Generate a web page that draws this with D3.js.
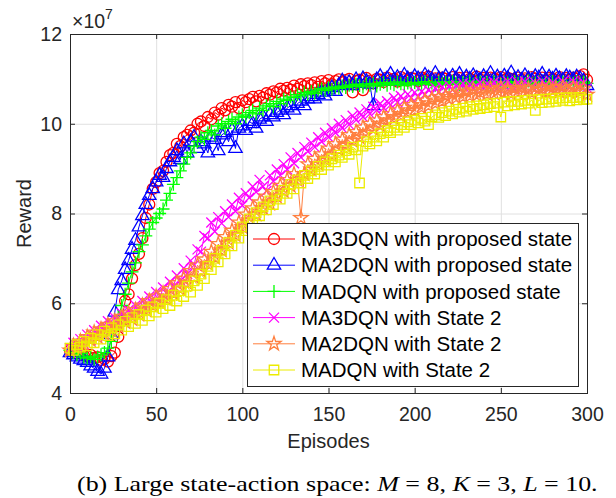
<!DOCTYPE html>
<html>
<head>
<meta charset="utf-8">
<script src="https://cdn.jsdelivr.net/npm/d3@7"></script>
<style>
  body { margin: 0; background: #fff; }
  svg { display: block; }
</style>
</head>
<body>
<svg id="chart"></svg>
<script>
// reward values in units of 1e7, one value every 2 episodes (0..300)
const episodes = d3.range(0, 301, 2);

const ma3dqnProposed = [
  4.95, 4.92, 4.88, 4.90, 4.84, 4.82, 4.85, 4.78, 4.80, 4.74,
  4.76, 4.70, 4.82, 4.90, 5.25, 5.60, 6.05, 6.20, 6.55, 6.85,
  7.10, 7.45, 7.90, 8.20, 8.55, 8.70, 8.90, 8.95, 9.15, 9.30,
  9.35, 9.55, 9.50, 9.70, 9.75, 9.85, 9.80, 10.00, 10.05, 9.95,
  10.15, 10.10, 10.25, 10.20, 10.35, 10.30, 10.42, 10.38, 10.48, 10.35,
  10.52, 10.48, 10.55, 10.60, 10.50, 10.62, 10.58, 10.68, 10.65, 10.72,
  10.70, 10.78, 10.74, 10.80, 10.76, 10.85, 10.78, 10.88, 10.84, 10.90,
  10.86, 10.92, 10.82, 10.95, 10.90, 10.97, 10.88, 10.95, 10.99, 10.92,
  10.97, 11.00, 10.70, 10.95, 10.98, 10.75, 11.02, 10.96, 10.90, 11.00,
  10.98, 10.93, 11.03, 10.97, 11.00, 10.94, 11.04, 10.99, 10.96, 11.02,
  11.00, 10.95, 11.03, 10.98, 11.05, 10.97, 11.01, 10.94, 11.03, 11.00,
  10.97, 11.04, 10.99, 11.02, 10.95, 11.03, 11.00, 10.97, 11.05, 10.99,
  11.02, 10.96, 11.03, 11.00, 10.98, 11.04, 10.97, 11.02, 11.00, 10.96,
  11.03, 10.99, 11.01, 10.97, 11.04, 11.00, 10.98, 11.03, 10.96, 11.02,
  11.00, 10.97, 11.04, 10.99, 11.02, 10.98, 11.03, 11.00, 11.06, 11.10,
  10.98
];

const ma2dqnProposed = [
  4.90, 4.85, 4.80, 4.75, 4.72, 4.68, 4.60, 4.55, 4.48, 4.42,
  4.55, 4.80, 5.30, 5.80, 6.30, 6.50, 6.75, 6.95, 7.20, 7.40,
  7.70, 7.95, 8.20, 8.40, 8.55, 8.70, 8.85, 8.80, 9.00, 9.15,
  9.25, 9.40, 9.20, 9.55, 9.35, 9.60, 9.70, 9.45, 9.60, 9.55,
  9.35, 9.70, 9.65, 9.40, 9.75, 9.80, 9.60, 9.85, 9.45, 9.90,
  9.95, 9.85, 10.05, 10.00, 9.90, 10.10, 10.15, 10.05, 10.20, 10.15,
  10.25, 10.30, 10.20, 10.35, 10.40, 10.30, 10.45, 10.50, 10.40, 10.55,
  10.60, 10.55, 10.65, 10.70, 10.62, 10.75, 10.80, 10.72, 10.85, 10.95,
  10.88, 10.92, 10.85, 10.98, 10.90, 11.00, 10.94, 10.88, 10.40, 10.98,
  11.05, 10.95, 11.00, 11.10, 10.97, 11.03, 10.95, 11.08, 11.00, 10.96,
  11.05, 11.00, 10.96, 11.08, 11.02, 10.97, 11.12, 11.00, 10.98, 11.05,
  10.97, 11.06, 11.00, 11.10, 10.96, 11.04, 10.99, 11.07, 11.01, 10.97,
  11.05, 11.00, 11.12, 10.98, 11.04, 10.96, 11.06, 11.01, 11.13, 10.99,
  11.03, 10.97, 11.07, 11.00, 10.96, 11.05, 11.02, 11.10, 10.98, 11.04,
  10.99, 11.06, 11.00, 10.97, 11.05, 11.02, 10.98, 11.04, 11.00, 10.95,
  10.85
];

const madqnProposed = [
  4.95, 4.90, 4.85, 4.88, 4.80, 4.78, 4.82, 4.75, 4.80, 4.85,
  4.90, 5.00, 5.15, 5.40, 5.70, 5.95, 6.20, 6.45, 6.70, 6.90,
  7.15, 7.30, 7.50, 7.65, 7.80, 7.90, 8.00, 8.10, 8.30, 8.45,
  8.65, 8.80, 8.95, 9.10, 9.25, 9.35, 9.50, 9.60, 9.70, 9.65,
  9.80, 9.85, 9.75, 9.95, 10.00, 9.90, 10.05, 10.10, 10.00, 10.15,
  10.20, 10.15, 10.25, 10.30, 10.22, 10.35, 10.30, 10.40, 10.45, 10.38,
  10.50, 10.45, 10.55, 10.52, 10.60, 10.58, 10.65, 10.62, 10.70, 10.66,
  10.72, 10.68, 10.75, 10.78, 10.74, 10.80, 10.77, 10.82, 10.79, 10.84,
  10.81, 10.86, 10.83, 10.88, 10.85, 10.82, 10.89, 10.86, 10.90, 10.84,
  10.88, 10.92, 10.86, 10.90, 10.87, 10.93, 10.89, 10.85, 10.91, 10.88,
  10.92, 10.87, 10.90, 10.94, 10.88, 10.91, 10.86, 10.93, 10.89, 10.92,
  10.88, 10.94, 10.90, 10.87, 10.92, 10.89, 10.95, 10.88, 10.91, 10.93,
  10.89, 10.92, 10.87, 10.94, 10.90, 10.88, 10.93, 10.91, 10.87, 10.94,
  10.90, 10.92, 10.88, 10.95, 10.89, 10.91, 10.93, 10.87, 10.92, 10.90,
  10.94, 10.88, 10.91, 10.93, 10.89, 10.92, 10.90, 10.94, 10.91, 10.93,
  10.90
];

const ma3dqnState2 = [
  5.00, 5.12, 5.05, 5.20, 5.10, 5.30, 5.18, 5.40, 5.28, 5.50,
  5.38, 5.60, 5.45, 5.68, 5.55, 5.78, 5.62, 5.85, 5.72, 5.95,
  5.82, 6.05, 5.88, 6.15, 6.00, 6.25, 6.08, 6.35, 6.22, 6.48,
  6.38, 6.62, 6.50, 6.78, 6.65, 6.95, 6.85, 7.20, 7.15, 7.50,
  7.45, 7.80, 7.60, 7.92, 7.78, 8.05, 7.92, 8.20, 8.05, 8.35,
  8.18, 8.45, 8.35, 8.60, 8.48, 8.75, 8.60, 8.50, 8.85, 8.72,
  8.98, 8.85, 9.10, 8.98, 9.25, 9.12, 9.35, 9.25, 9.48, 9.38,
  9.58, 9.48, 9.70, 9.60, 9.80, 9.70, 9.90, 9.80, 10.00, 9.90,
  10.08, 9.98, 10.18, 10.08, 10.25, 10.15, 10.32, 10.22, 10.38, 10.30,
  10.45, 10.35, 10.50, 10.42, 10.58, 10.48, 10.62, 10.52, 10.66, 10.58,
  10.70, 10.60, 10.72, 10.65, 10.76, 10.68, 10.80, 10.70, 10.82, 10.74,
  10.85, 10.75, 10.86, 10.78, 10.90, 10.76, 10.88, 10.80, 10.84, 10.92,
  10.80, 10.90, 10.82, 10.93, 10.79, 10.88, 10.84, 10.95, 10.83, 10.78,
  10.92, 10.82, 10.94, 10.86, 10.80, 10.91, 10.84, 10.95, 10.88, 10.81,
  10.92, 10.85, 10.80, 10.94, 10.87, 10.83, 10.95, 10.88, 10.84, 10.92,
  10.80
];

const ma2dqnState2 = [
  4.95, 5.05, 5.00, 5.15, 5.08, 5.25, 5.18, 5.35, 5.25, 5.42,
  5.32, 5.52, 5.40, 5.60, 5.50, 5.70, 5.58, 5.78, 5.65, 5.85,
  5.75, 5.95, 5.85, 6.05, 5.95, 6.15, 6.02, 6.22, 6.10, 6.32,
  6.22, 6.45, 6.32, 6.55, 6.45, 6.72, 6.58, 6.85, 6.72, 6.98,
  6.88, 7.15, 7.02, 7.32, 7.18, 7.48, 7.35, 7.62, 7.52, 7.80,
  7.70, 7.98, 7.85, 8.12, 7.98, 8.25, 8.12, 8.38, 8.22, 8.48,
  8.38, 8.62, 8.50, 8.75, 8.62, 8.88, 8.75, 7.90, 8.88, 9.10,
  8.98, 9.22, 9.10, 9.32, 9.20, 9.45, 9.30, 9.55, 9.42, 9.65,
  9.52, 9.75, 9.62, 9.82, 9.70, 9.92, 9.80, 10.00, 9.88, 10.08,
  9.96, 10.15, 10.05, 10.22, 10.12, 10.30, 10.18, 10.36, 10.25, 10.42,
  10.30, 10.46, 10.36, 10.52, 10.40, 10.56, 10.45, 10.60, 10.50, 10.62,
  10.55, 10.66, 10.58, 10.70, 10.60, 10.72, 10.62, 10.75, 10.64, 10.70,
  10.76, 10.66, 10.78, 10.68, 10.74, 10.80, 10.70, 10.76, 10.66, 10.79,
  10.70, 10.80, 10.72, 10.77, 10.68, 10.81, 10.74, 10.78, 10.70, 10.82,
  10.74, 10.79, 10.71, 10.82, 10.75, 10.70, 10.80, 10.76, 10.72, 10.78,
  10.65
];

const madqnState2 = [
  5.00, 4.95, 5.08, 5.02, 5.15, 5.05, 5.22, 5.12, 5.30, 5.20,
  5.38, 5.28, 5.45, 5.32, 5.52, 5.40, 5.60, 5.48, 5.68, 5.55,
  5.75, 5.62, 5.85, 5.72, 5.92, 5.80, 6.00, 5.88, 6.08, 5.95,
  6.18, 6.05, 6.28, 6.15, 6.38, 6.25, 6.50, 6.40, 6.65, 6.55,
  6.82, 6.75, 7.00, 6.92, 7.18, 7.10, 7.35, 7.28, 7.52, 7.45,
  7.70, 7.62, 7.88, 7.80, 8.02, 7.95, 8.15, 8.08, 8.28, 8.20,
  8.40, 8.32, 8.52, 8.45, 8.65, 8.55, 8.75, 8.68, 8.85, 8.78,
  8.95, 8.88, 9.05, 8.98, 9.15, 9.08, 9.22, 9.15, 9.30, 9.25,
  9.40, 9.32, 9.48, 9.42, 8.68, 9.50, 9.60, 9.55, 9.70, 9.62,
  9.78, 9.70, 9.85, 9.80, 9.92, 9.86, 9.98, 9.92, 10.04, 9.98,
  10.08, 10.02, 10.12, 10.06, 9.98, 10.15, 10.20, 10.14, 10.25, 10.18,
  10.28, 10.22, 10.32, 10.26, 10.35, 10.28, 10.38, 10.32, 10.40, 10.34,
  10.42, 10.36, 10.45, 10.38, 10.46, 10.15, 10.48, 10.40, 10.50, 10.42,
  10.50, 10.44, 10.52, 10.46, 10.53, 10.30, 10.54, 10.47, 10.55, 10.48,
  10.56, 10.50, 10.57, 10.52, 10.58, 10.51, 10.58, 10.53, 10.59, 10.54,
  10.55
];

const seriesNames = [
  'MA3DQN with proposed state',
  'MA2DQN with proposed state',
  'MADQN with proposed state',
  'MA3DQN with State 2',
  'MA2DQN with State 2',
  'MADQN with State 2'
];
const seriesValues = [ma3dqnProposed, ma2dqnProposed, madqnProposed, ma3dqnState2, ma2dqnState2, madqnState2];
const seriesColors = ['#ff0000', '#0000ff', '#00ff00', '#ff00ff', '#ff7f3f', '#ecec00'];
const seriesMarkers = ['circle', 'triangle', 'plus', 'x', 'star', 'square'];

const xTicks = [0, 50, 100, 150, 200, 250, 300];
const yTicks = [4, 6, 8, 10, 12];

const fullWidth = 616;
const fullHeight = 498;
const plot = {left: 70, right: 587, top: 34, bottom: 393};
const axisColor = '#262626';
const font = '"Liberation Sans", Arial, Helvetica, sans-serif';

const x = d3.scaleLinear().domain([0, 300]).range([plot.left, plot.right]);
const y = d3.scaleLinear().domain([4, 12]).range([plot.bottom, plot.top]);

const svg = d3.select('#chart')
    .attr('width', fullWidth)
    .attr('height', fullHeight)
    .style('font-family', font);

// marker shapes, all open
function markerPath(type) {
    switch (type) {
        case 'circle': return d3.symbol(d3.symbolCircle, 95)();
        case 'triangle': return d3.symbol(d3.symbolTriangle, 78)();
        case 'square': return d3.symbol(d3.symbolSquare, 90)();
        case 'star': return d3.symbol(d3.symbolStar, 62)();
        case 'plus': return 'M-6.5,0H6.5M0,-6.5V6.5';
        case 'x': return 'M-5,-5L5,5M-5,5L5,-5';
    }
}

// grid
const grid = svg.append('g').attr('class', 'grid')
    .attr('stroke', '#e0e0e0').attr('stroke-width', 1);
grid.selectAll('.gx').data(xTicks.slice(1, -1)).enter().append('line')
    .attr('x1', d => x(d) + 0.5).attr('x2', d => x(d) + 0.5)
    .attr('y1', plot.top).attr('y2', plot.bottom);
grid.selectAll('.gy').data(yTicks.slice(1, -1)).enter().append('line')
    .attr('y1', d => y(d) + 0.5).attr('y2', d => y(d) + 0.5)
    .attr('x1', plot.left).attr('x2', plot.right);

// series
const line = d3.line().x((d, i) => x(episodes[i])).y(d => y(d));
seriesValues.forEach((vals, k) => {
    const g = svg.append('g').attr('class', 'series');
    g.append('path')
        .datum(vals)
        .attr('d', line)
        .attr('fill', 'none')
        .attr('stroke', seriesColors[k])
        .attr('stroke-width', 1);
    g.selectAll('.mk').data(vals).enter().append('path')
        .attr('class', 'mk')
        .attr('d', markerPath(seriesMarkers[k]))
        .attr('transform', (d, i) => `translate(${x(episodes[i])},${y(d)})`)
        .attr('fill', 'none')
        .attr('stroke', seriesColors[k])
        .attr('stroke-width', 1.3);
});

// axes, ticks inside on all four sides
function styleAxis(sel) {
    sel.select('.domain').remove();
    sel.selectAll('line').attr('stroke', axisColor);
    sel.selectAll('text').attr('fill', axisColor).style('font-size', '19.5px').style('font-family', font);
}
svg.append('g').attr('transform', `translate(0,${plot.bottom})`)
    .call(d3.axisBottom(x).tickValues(xTicks).tickSize(-5).tickPadding(14))
    .call(styleAxis);
svg.append('g').attr('transform', `translate(0,${plot.top})`)
    .call(d3.axisTop(x).tickValues(xTicks).tickSize(-5).tickFormat(''))
    .call(styleAxis);
svg.append('g').attr('transform', `translate(${plot.left},0)`)
    .call(d3.axisLeft(y).tickValues(yTicks).tickSize(-5).tickPadding(8))
    .call(styleAxis);
svg.append('g').attr('transform', `translate(${plot.right},0)`)
    .call(d3.axisRight(y).tickValues(yTicks).tickSize(-5).tickFormat(''))
    .call(styleAxis);

svg.append('rect')
    .attr('x', plot.left + 0.5).attr('y', plot.top + 0.5)
    .attr('width', plot.right - plot.left).attr('height', plot.bottom - plot.top)
    .attr('fill', 'none').attr('stroke', axisColor).attr('stroke-width', 1);

// exponent
const expo = svg.append('text').attr('x', 72).attr('y', 28)
    .attr('fill', axisColor).style('font-size', '19.5px');
expo.append('tspan').text('\u00d710');
expo.append('tspan').attr('dy', -9).style('font-size', '14px').text('7');

// axis labels
svg.append('text')
    .attr('transform', `translate(31,${(plot.top + plot.bottom) / 2}) rotate(-90)`)
    .attr('text-anchor', 'middle').attr('fill', axisColor)
    .style('font-size', '20px').text('Reward');
svg.append('text')
    .attr('x', (plot.left + plot.right) / 2).attr('y', 448)
    .attr('text-anchor', 'middle').attr('fill', axisColor)
    .style('font-size', '20px').text('Episodes');

// legend
const legend = svg.append('g').attr('class', 'legend');
legend.append('rect')
    .attr('x', 247.5).attr('y', 223.5).attr('width', 331).attr('height', 163)
    .attr('fill', '#fff').attr('stroke', axisColor).attr('stroke-width', 1);
const rows = legend.selectAll('.row').data(seriesNames).enter().append('g')
    .attr('class', 'row')
    .attr('transform', (d, i) => `translate(0,${239 + i * 26.2})`);
rows.append('line')
    .attr('x1', 253).attr('x2', 295)
    .attr('stroke', (d, i) => seriesColors[i]).attr('stroke-width', 1);
rows.append('path')
    .attr('d', (d, i) => markerPath(seriesMarkers[i]))
    .attr('transform', 'translate(274,0)')
    .attr('fill', 'none')
    .attr('stroke', (d, i) => seriesColors[i]).attr('stroke-width', 1.3);
rows.append('text')
    .attr('x', 301).attr('dy', '0.35em').attr('fill', '#000')
    .style('font-size', '20.5px').text(d => d);

// caption, fitted to the width it has in the figure
const cap = svg.append('text')
    .attr('x', 0).attr('y', 0)
    .style('font-family', '"Liberation Serif", "Times New Roman", serif')
    .style('font-size', '21px').attr('fill', '#000');
cap.append('tspan').text('(b) Large state-action space: ');
cap.append('tspan').style('font-style', 'italic').text('M');
cap.append('tspan').text(' = 8, ');
cap.append('tspan').style('font-style', 'italic').text('K');
cap.append('tspan').text(' = 3, ');
cap.append('tspan').style('font-style', 'italic').text('L');
cap.append('tspan').text(' = 10.');
const capWidth = cap.node().getComputedTextLength();
cap.attr('transform', `translate(77,491) scale(${521 / capWidth},1)`);
</script>
</body>
</html>
